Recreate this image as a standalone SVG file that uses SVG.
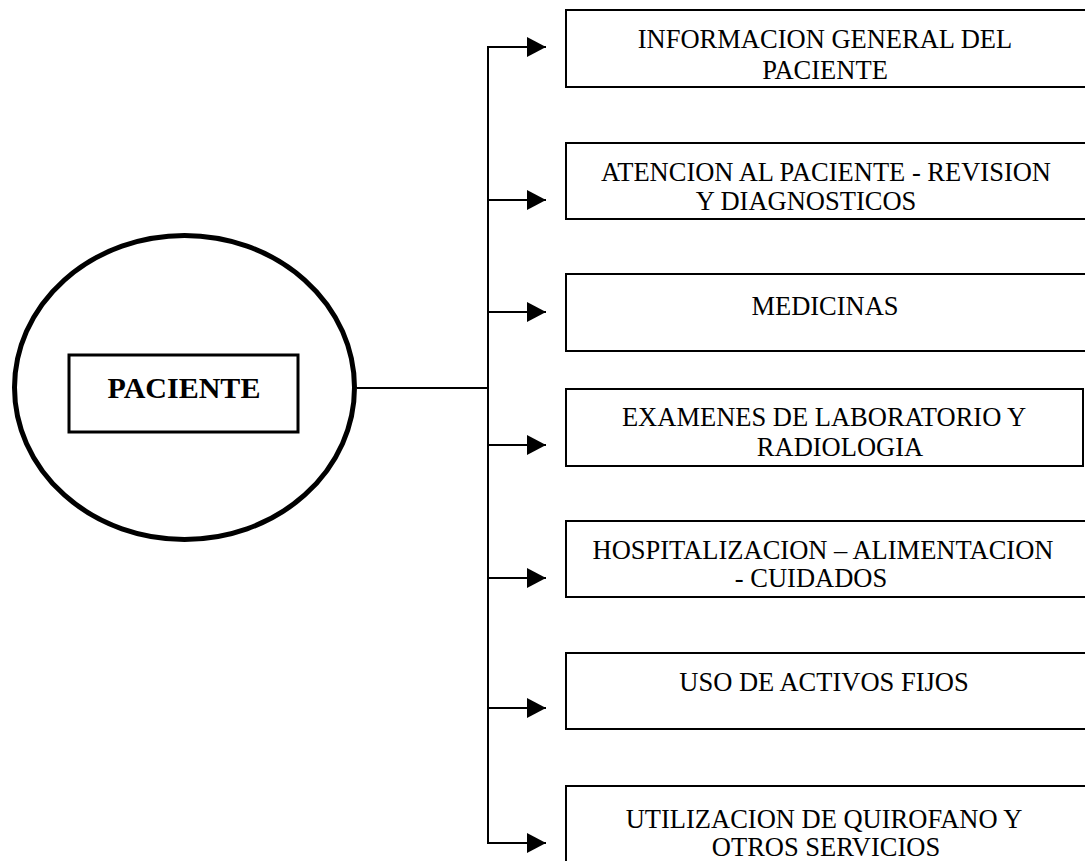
<svg xmlns="http://www.w3.org/2000/svg" width="1085" height="861" viewBox="0 0 1085 861">
<style>
.box{fill:#fff;stroke:#000;stroke-width:2}
.t{font-family:"Liberation Serif","Times New Roman",serif;font-size:26.5px;fill:#000;text-anchor:middle}
.c{fill:none;stroke:#000;stroke-width:2}
</style>
<defs>
<marker id="ah" viewBox="0 0 19 20" refX="19" refY="10" markerWidth="19" markerHeight="20" markerUnits="userSpaceOnUse" orient="auto">
<path d="M0,0 L19,10 L0,20 Z" fill="#000"/>
</marker>
</defs>
<rect width="1085" height="861" fill="#fff"/>
<g id="paciente">
<ellipse cx="184.5" cy="387.5" rx="170" ry="152" fill="#fff" stroke="#000" stroke-width="5"/>
<rect x="69" y="355" width="229" height="77" fill="#fff" stroke="#000" stroke-width="3"/>
<text x="184" y="398" style="font-family:'Liberation Serif','Times New Roman',serif;font-size:30px;font-weight:bold;text-anchor:middle">PACIENTE</text>
</g>
<g id="connectors">
<line class="c" x1="357" y1="388" x2="488" y2="388" stroke-width="1.5"/>
<line class="c" x1="488" y1="47" x2="488" y2="843"/>
<line class="c" x1="487" y1="47" x2="546" y2="47" marker-end="url(#ah)"/>
<line class="c" x1="487" y1="200" x2="546" y2="200" marker-end="url(#ah)"/>
<line class="c" x1="487" y1="312" x2="546" y2="312" marker-end="url(#ah)"/>
<line class="c" x1="487" y1="445" x2="546" y2="445" marker-end="url(#ah)"/>
<line class="c" x1="487" y1="578" x2="546" y2="578" marker-end="url(#ah)"/>
<line class="c" x1="487" y1="708" x2="546" y2="708" marker-end="url(#ah)"/>
<line class="c" x1="487" y1="843" x2="546" y2="843" marker-end="url(#ah)"/>
</g>
<g id="n1">
<rect class="box" x="566" y="10" width="530" height="77"/>
<text class="t" x="825" y="48">INFORMACION GENERAL DEL</text>
<text class="t" x="825" y="79">PACIENTE</text>
</g>
<g id="n2">
<rect class="box" x="566" y="143" width="530" height="76"/>
<text class="t" x="826" y="181">ATENCION AL PACIENTE -  REVISION</text>
<text class="t" x="806" y="210">Y DIAGNOSTICOS</text>
</g>
<g id="n3">
<rect class="box" x="566" y="274" width="530" height="77"/>
<text class="t" x="825" y="315">MEDICINAS</text>
</g>
<g id="n4">
<rect class="box" x="566" y="389" width="517" height="77"/>
<text class="t" x="824" y="426">EXAMENES DE LABORATORIO Y</text>
<text class="t" x="840" y="456">RADIOLOGIA</text>
</g>
<g id="n5">
<rect class="box" x="566" y="521" width="530" height="76"/>
<text class="t" x="823" y="559">HOSPITALIZACION – ALIMENTACION</text>
<text class="t" x="811" y="587">- CUIDADOS</text>
</g>
<g id="n6">
<rect class="box" x="566" y="653" width="530" height="76"/>
<text class="t" x="824" y="691">USO DE ACTIVOS FIJOS</text>
</g>
<g id="n7">
<rect class="box" x="566" y="786" width="530" height="90"/>
<text class="t" x="824" y="828">UTILIZACION DE QUIROFANO Y</text>
<text class="t" x="826" y="856">OTROS SERVICIOS</text>
</g>
</svg>
